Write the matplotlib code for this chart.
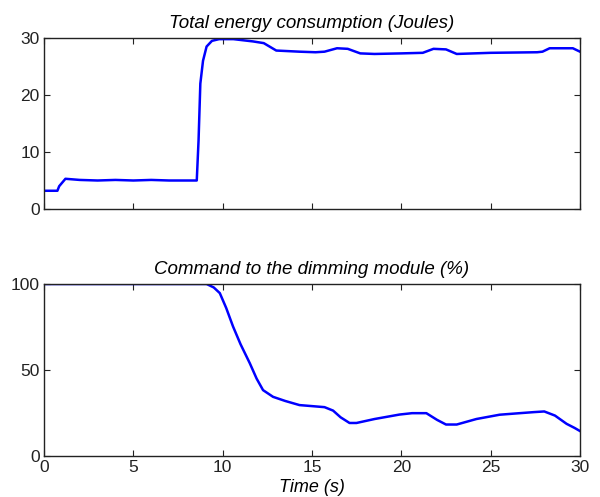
import matplotlib.pyplot as plt

plt.rcParams['font.family'] = ['Liberation Sans', 'DejaVu Sans']

# Total energy consumption (Joules)
t_energy = [0, 0.75, 0.85, 1.2, 2, 3, 4, 5, 6, 7, 8, 8.55, 8.65, 8.75, 8.9,
            9.1, 9.4, 9.8, 10.6, 11.7, 12.3, 13.0, 14.3, 15.2, 15.7, 16.4,
            17.0, 17.7, 18.5, 20, 21.2, 21.8, 22.5, 23.1, 25, 27.6, 27.9,
            28.3, 29.6, 30]
energy = [3.2, 3.2, 4.0, 5.3, 5.1, 5.0, 5.1, 5.0, 5.1, 5.0, 5.0, 5.0, 12, 22,
          26, 28.5, 29.5, 29.8, 29.8, 29.4, 29.1, 27.8, 27.6, 27.5, 27.6, 28.2,
          28.1, 27.3, 27.2, 27.3, 27.4, 28.1, 28.0, 27.2, 27.4, 27.5, 27.6,
          28.2, 28.2, 27.6]

# Command to the dimming module (%)
t_cmd = [0, 9.1, 9.5, 9.84, 10.2, 10.58, 11.0, 11.52, 11.9, 12.26, 12.82,
         13.5, 14.3, 15.7, 16.18, 16.6, 17.1, 17.49, 18.5, 19.9, 20.6, 21.4,
         22.0, 22.5, 23.1, 24.2, 25.5, 26.5, 27.4, 28.0, 28.6, 29.25, 29.7, 30]
command = [100, 100, 98, 94.7, 86, 75.3, 65, 53.9, 45, 38.3, 34.4, 32.0, 29.6,
           28.4, 26.4, 22.5, 19.2, 19.2, 21.5, 24.1, 24.9, 24.9, 21.0, 18.3,
           18.3, 21.5, 24.0, 24.8, 25.5, 25.9, 23.5, 18.7, 16.3, 14.5]

fig = plt.figure(figsize=(6, 4.97), dpi=100)
ax1 = fig.add_axes([44 / 600, 1 - 209 / 497, 536 / 600, 171 / 497])
ax2 = fig.add_axes([44 / 600, 1 - 456 / 497, 536 / 600, 172 / 497])

ax1.plot(t_energy, energy, color=(0, 0, 1), linewidth=1.8)
ax1.set_xlim(0, 30)
ax1.set_ylim(0, 30)
ax1.set_yticks([0, 10, 20, 30])
ax1.set_xticks([0, 5, 10, 15, 20, 25, 30])
ax1.set_xticklabels([])
ax1.set_title('Total energy consumption (Joules)', fontsize=13.5,
              style='italic', pad=7)

ax2.plot(t_cmd, command, color=(0, 0, 1), linewidth=1.8)
ax2.set_xlim(0, 30)
ax2.set_ylim(0, 100)
ax2.set_yticks([0, 50, 100])
ax2.set_xticks([0, 5, 10, 15, 20, 25, 30])
ax2.set_title('Command to the dimming module (%)', fontsize=13.5,
              style='italic', pad=7)
ax2.set_xlabel('Time (s)', fontsize=13, style='italic', labelpad=3)

for ax in (ax1, ax2):
    ax.tick_params(direction='in', length=4, width=0.8, top=True, right=True,
                   labelsize=12.5, pad=3, colors='#222222')
    for sp in ax.spines.values():
        sp.set_color('#222222')
        sp.set_linewidth(1.0)

fig.savefig('out.png', dpi=100)
